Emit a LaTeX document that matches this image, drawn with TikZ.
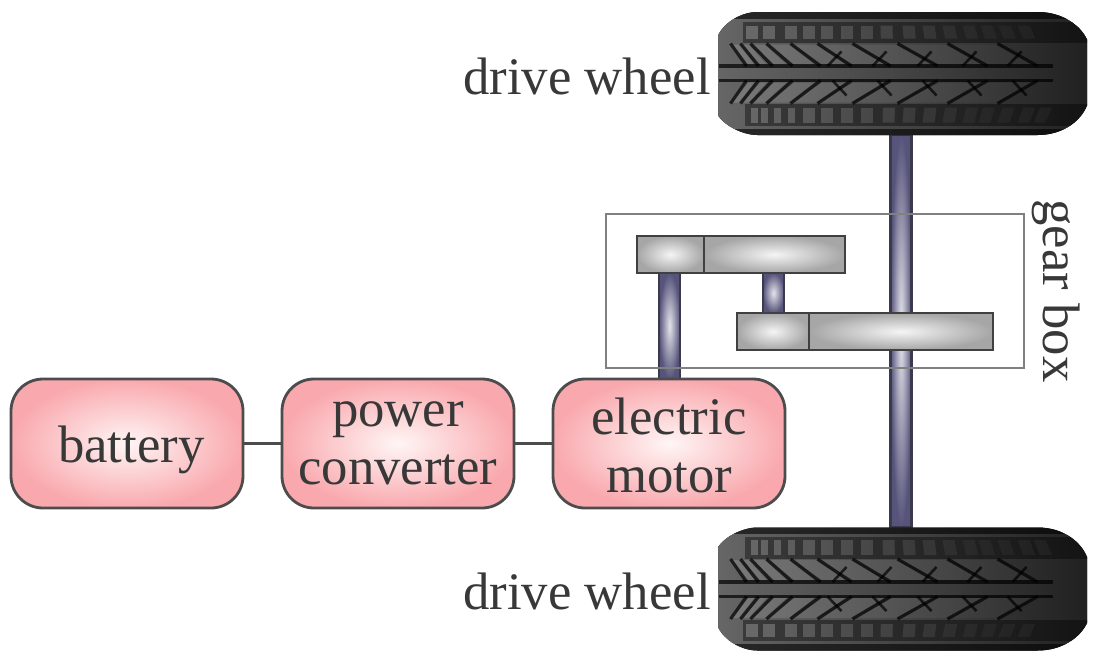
\documentclass[tikz,border=0pt]{standalone}
\usepackage{fontspec}
\setmainfont{Liberation Serif}
\def\u{0.02cm}
\definecolor{boxpink}{HTML}{F9A9AE}
\definecolor{shaftdark}{HTML}{56547A}
\definecolor{shaftlight}{HTML}{E4E4EC}
\definecolor{shaftline}{HTML}{3A3A4C}
\tikzset{
	powerbox/.style={draw=black!70, line width=1.6pt, rounded corners=32*\u, minimum width=232*\u, minimum height=129*\u, inner color=white!85!pink, outer color=boxpink, align=center, text=black!78, font=\fontsize{30}{33}\selectfont},
	gearpart/.style={draw=black!75, line width=1.6pt, inner sep=0pt, minimum height=37*\u, inner color=white!92!gray, outer color=black!35},
	shaftpart/.style={draw=shaftline, line width=1.5pt, inner sep=0pt, minimum width=21*\u, inner color=shaftlight, outer color=shaftdark},
	wheellabel/.style={text=black!78, font=\fontsize{30}{36}\selectfont},
	wire/.style={draw=black!70, line width=1.6pt},
	groove/.style={draw=black, line width=2.2pt, opacity=0.7}
}
% wheel outline and tread pattern around the wheel centre, #2 flips it
\newcommand{\tire}[2]{
	\begin{scope}[shift={(#1)}, yscale=#2]
		\def\outline{(-184.5, -38) .. controls (-178, -52) and (-160, -61.5) .. (-145, -61.5) -- (135, -61.5) .. controls (160, -61.5) and (178, -48) .. (184.5, -34) -- (184.5, 32) .. controls (178, 48) and (160, 61.5) .. (135, 61.5) -- (-145, 61.5) .. controls (-160, 61.5) and (-178, 52) .. (-184.5, 42) -- cycle}
		\fill [left color=black!60, middle color=black!78, right color=black!87] \outline;
		\begin{scope}
			\clip \outline;
			% dark rims
			\fill [black, opacity=0.6] (-190, -62) rectangle (190, -55);
			\fill [black, opacity=0.6] (-190, 55) rectangle (190, 62);
			% shoulder rows
			\fill [black, opacity=0.4] (-160, -52) rectangle (190, -31);
			\fill [black, opacity=0.4] (-158, 30) rectangle (190, 52);
			\foreach \bx in {-157,-140,-118,-100,-82,-62,-42,-22,0,20,40,60,78,96,115} {
				\pgfmathsetmacro{\op}{max(0.04, 0.24-(\bx+160)*0.0009)}
				\pgfmathsetmacro{\sk}{max(0, (\bx+30)*0.04)}
				\fill [white, opacity=\op] (\bx, -48) -- (\bx+12, -48) -- (\bx+12+\sk, -35) -- (\bx+\sk, -35) -- cycle;
			}
			\foreach \bx in {-152,-142,-129,-115,-100,-82,-62,-42,-20,0,20,40,60,76,95,115,131} {
				\pgfmathsetmacro{\op}{max(0.04, 0.24-(\bx+160)*0.0009)}
				\pgfmathsetmacro{\sk}{max(0, (\bx+30)*0.04)}
				\pgfmathsetmacro{\bw}{\bx < -100 ? 7 : 12}
				\fill [white, opacity=\op] (\bx, 49) -- (\bx+\bw, 49) -- (\bx+\bw+\sk, 34) -- (\bx+\sk, 34) -- cycle;
			}
			% facets between the chevrons
			\foreach \cx/\nx/\dx in {-172/-162/16,-162/-152/18,-152/-136/22,-136/-112/26,-112/-85/30,-85/-50/34,-50/-5/38,-5/45/40,45/95/40} {
				\pgfmathsetmacro{\op}{max(0.03, 0.14-(\cx+172)*0.0005)}
				\fill [white, opacity=\op] (\cx+2, -29) -- (\nx-2, -29) -- (\nx+\dx-2, -9) -- (\cx+\dx+2, -9) -- cycle;
				\fill [white, opacity=\op] (\cx+2, 29) -- (\nx-2, 29) -- (\nx+\dx-2, 9) -- (\cx+\dx+2, 9) -- cycle;
			}
			% centre grooves
			\draw [groove] (-184, -7.5) -- (150, -7.5);
			\draw [groove] (-184, 7) -- (150, 7);
			% chevrons
			\foreach \cx/\dx in {-172/16,-162/18,-152/22,-136/26,-112/30,-85/34,-50/38,-5/40,45/40,95/40} {
				\draw [groove, line width=1.8pt] (\cx, -30) -- (\cx+\dx, -7.5);
				\draw [groove, line width=1.8pt] (\cx, 30) -- (\cx+\dx, 7);
			}
			% crossing strokes of the Y marks
			\foreach \cx in {-70,-25,20,65,110} {
				\draw [groove, line width=1.5pt] (\cx, 7) -- (\cx+14, 22);
				\draw [groove, line width=1.5pt] (\cx-5, -7.5) -- (\cx+9, -22);
			}
		\end{scope}
	\end{scope}
}

\begin{document}
\begin{tikzpicture}[x=\u, y=-\u]
		\useasboundingbox (0, 0) rectangle (1097, 663);
		
		% Shafts
		\node [shaftpart, minimum height=392*\u] (axle) at (901, 331) {};
		\node [shaftpart, minimum height=106*\u] (motorshaft) at (669.5, 326) {};
		\node [shaftpart, minimum height=40*\u] (idler) at (773.5, 293) {};
		
		% Wheels
		\coordinate (topwheel) at (902.5, 73.5);
		\coordinate (bottomwheel) at (902.5, 589);
		\tire{topwheel}{1}
		\tire{bottomwheel}{-1}
		
		% Gears
		\node [gearpart, minimum width=67*\u] (gearA) at (670.5, 254.5) {};
		\node [gearpart, minimum width=141*\u] (gearB) at (774.5, 254.5) {};
		\node [gearpart, minimum width=72*\u] (gearC) at (773, 331.5) {};
		\node [gearpart, minimum width=184*\u] (gearD) at (901, 331.5) {};
		
		% Gear box
		\node [draw=black!50, line width=0.8pt, minimum width=418*\u, minimum height=154*\u, inner sep=0pt] (gearbox) at (815, 291) {};
		\node [wheellabel, rotate=-90] (gearboxlabel) at (1056, 291) {gear box};
		
		% Power chain
		\node [powerbox] (battery) at (127, 443.5) {\rule{0pt}{28.5pt}\hspace*{5pt}battery};
		\node [powerbox] (converter) at (398, 443.5) {power\\converter};
		\node [powerbox] (motor) at (669, 443.5) {\rule{0pt}{23pt}electric\\motor};
		
		\draw [wire] (battery) -- (converter);
		\draw [wire] (converter) -- (motor);
		
		% Wheel labels
		\node [wheellabel] (toplabel) at (587, 76) {drive wheel};
		\node [wheellabel] (bottomlabel) at (587, 591) {drive wheel};
		
	\end{tikzpicture}
\end{document}
